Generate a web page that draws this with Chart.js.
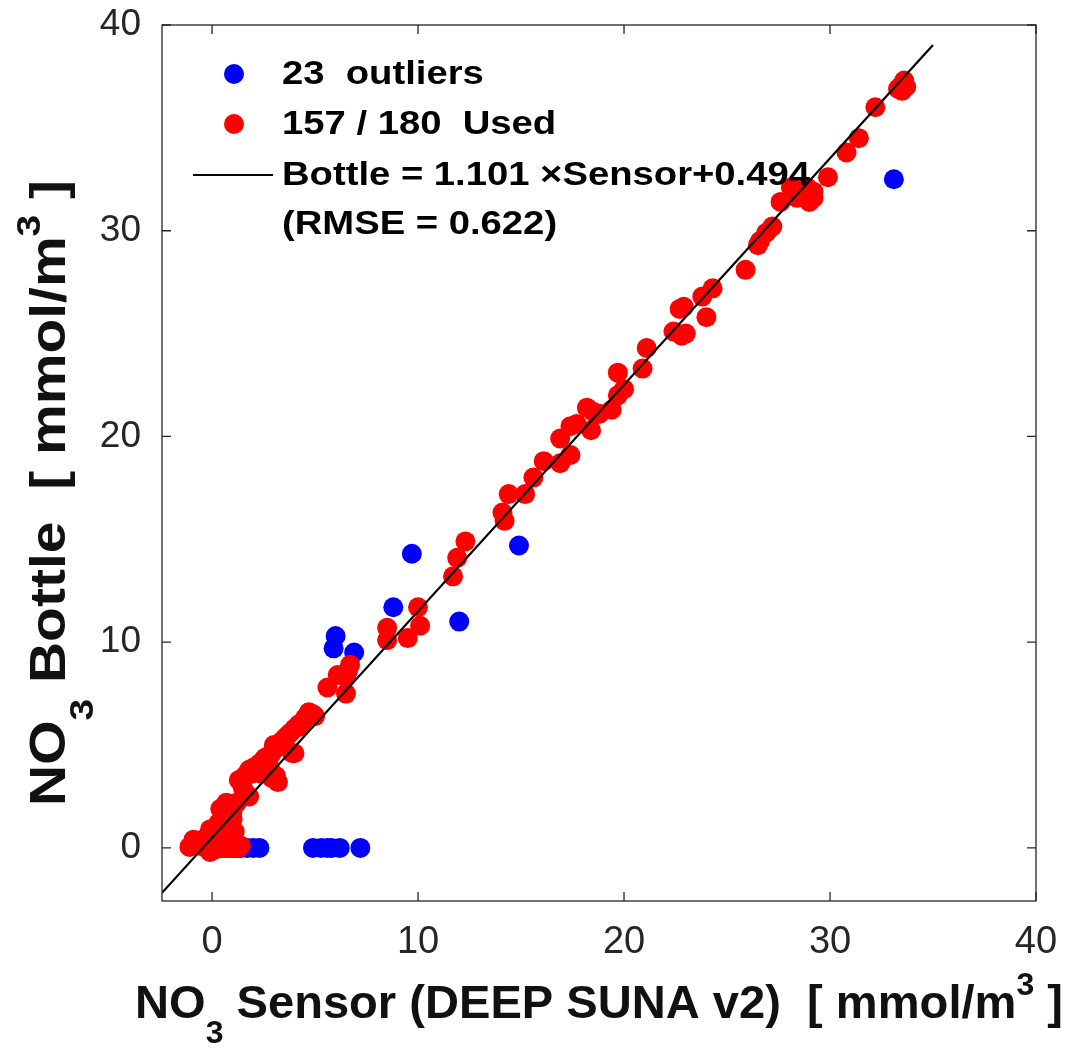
<!DOCTYPE html>
<html>
<head>
<meta charset="utf-8">
<script src="https://cdn.jsdelivr.net/npm/chart.js@4.4.1/dist/chart.umd.min.js"></script>
<style>
  html, body { margin: 0; padding: 0; background: #fff; }
  #chart { display: block; }
</style>
</head>
<body>
<canvas id="chart" width="1068" height="1054"></canvas>
<script>
// axis ticks
const xTickValues = [0, 10, 20, 30, 40];
const yTickValues = [0, 10, 20, 30, 40];

// outliers (sensor, bottle)
const outlierX = [33.1, 14.9, 9.7, 8.8, 12.0, 6.0, 5.9, 6.9,
  0.2, 0.5, 0.8, 1.0, 1.2, 1.4, 1.7, 2.0, 2.3, 4.9, 5.3, 5.6, 5.8, 6.2, 7.2];
const outlierY = [32.5, 14.7, 14.3, 11.7, 11.0, 10.3, 9.7, 9.5,
  0, 0, 0, 0, 0, 0, 0, 0, 0, 0, 0, 0, 0, 0, 0];

// used points (sensor, bottle)
const usedX = [33.4, 33.6, 33.7, 33.5, 33.3, 32.2, 31.4, 30.8, 29.9, 29.2, 29.0, 29.2,
  28.4, 28.1, 28.9, 28.3, 27.6, 27.2, 26.9, 26.6, 26.5,
  25.9, 24.3, 23.8, 24.0, 22.9, 22.7, 23.0, 22.8, 22.4,
  21.1, 20.9, 19.7, 20.0, 19.7, 19.4, 18.2, 18.5, 18.8,
  17.7, 18.4, 17.4, 16.9, 17.4, 16.9, 16.1, 15.6, 15.2, 14.4, 14.1, 14.2,
  12.3, 11.9, 11.7, 10.0, 10.1, 9.5, 8.5, 8.5,
  6.7, 6.6, 6.1, 6.5, 5.6, 6.5,
  4.7, 4.6, 4.4, 4.2, 4.0, 3.8, 3.7, 3.5, 3.4, 3.3,
  3.2, 3.0, 4.0, 3.9, 2.8, 2.6, 2.5, 2.3, 2.2, 2.0,
  1.8, 1.7, 1.6, 3.1, 3.2, 2.4, 2.8, 1.4, 1.5, 1.8,
  1.6, 0.7, 0.8, 0.4, 0.6, 1.0, 0.9, 1.1, -0.1, 0.2,
  0.7, 0.5, -0.9, -1.1, -0.8, -0.4, -0.2, 0.0, 0.3, 0.6,
  0.9, 1.1, 1.2, -0.1, 0.1, 0.4, 0.8, 0.2, -0.5, 1.0,
  4.9, 5.0, 4.5, 4.3, 3.6, 3.0, 2.9, 2.7, 2.1, 1.9,
  2.6, 2.9, 1.3, 1.2, 1.0, 0.5, 0.3, 0.0, -0.3, -0.6,
  0.05, 0.15, 0.45, 0.75, 1.0, 1.3, 1.4, 0.25, 0.55, 0.85, -0.05, 0.35];
const usedY = [37.0, 37.3, 37.0, 36.8, 36.9, 36.0, 34.5, 33.8, 32.6, 31.9, 31.4, 31.6,
  31.6, 32.1, 32.1, 32.0, 31.4, 30.2, 29.9, 29.5, 29.3,
  28.1, 27.2, 26.8, 25.8, 26.3, 26.2, 25.0, 24.9, 25.1,
  24.3, 23.3, 23.1, 22.3, 22.0, 21.3, 21.4, 21.2, 21.1,
  20.6, 20.3, 20.5, 19.9, 19.1, 18.7, 18.8, 18.0, 17.2, 17.2, 16.3, 15.9,
  14.9, 14.1, 13.2, 11.7, 10.8, 10.2, 10.7, 10.1,
  8.9, 8.6, 8.4, 8.3, 7.8, 7.5,
  6.6, 6.4, 6.1, 6.0, 5.8, 5.6, 5.5, 5.3, 5.2, 5.1,
  4.9, 4.8, 4.6, 4.6, 4.5, 4.4, 4.3, 4.1, 4.0, 3.9,
  3.8, 3.6, 3.5, 3.5, 3.2, 3.6, 3.9, 3.2, 2.9, 2.5,
  2.7, 2.2, 2.0, 1.9, 1.7, 1.4, 1.1, 0.8, 0.9, 0.7,
  0.5, 0.4, 0.4, 0.05, 0.1, 0.05, 0.2, 0.0, 0.0, 0.0,
  0.0, 0.0, 0.1, -0.2, -0.1, 0.1, 0.2, 0.3, 0.3, 0.3,
  6.5, 6.4, 6.3, 5.9, 5.4, 5.0, 4.6, 4.2, 3.8, 3.6,
  3.9, 3.4, 3.3, 2.2, 1.8, 1.5, 1.2, 0.6, 0.5, 0.2,
  0.1, 0.0, 0.0, 0.0, 0.0, 0.0, 0.1, 0.05, 0.1, 0.1, 0.0, 0.2];

// regression line end points
const fitX = [-2.43, 35.0];
const fitY = [-2.18, 39.03];

const legendLines = ['23  outliers', '157 / 180  Used', 'Bottle = 1.101 \u00D7Sensor+0.494', '(RMSE = 0.622)'];

function toPoints(xs, ys) {
  return xs.map((x, i) => ({ x: x, y: ys[i] }));
}

// text with sub / superscripts, stretched to a target width
function richText(ctx, parts, size, weight, targetW) {
  let w = 0;
  parts.forEach(p => {
    const s = p.k === 'n' ? size : size * 0.68;
    ctx.font = weight + ' ' + s + 'px "Liberation Sans", Arial, sans-serif';
    p.w = ctx.measureText(p.t).width;
    w += p.w;
  });
  const sx = targetW / w;
  ctx.save();
  ctx.scale(sx, 1);
  let x = 0;
  parts.forEach(p => {
    const s = p.k === 'n' ? size : size * 0.68;
    ctx.font = weight + ' ' + s + 'px "Liberation Sans", Arial, sans-serif';
    let dy = 0;
    if (p.k === 'sub') dy = size * 0.55;
    if (p.k === 'sup') dy = -size * 0.5;
    ctx.fillText(p.t, x, dy);
    x += p.w;
  });
  ctx.restore();
}

const decor = {
  id: 'decor',
  afterDraw(chart) {
    const ctx = chart.ctx;
    const a = chart.chartArea;
    const xs = chart.scales.x, ys = chart.scales.y;
    ctx.save();
    // box and inward ticks
    ctx.strokeStyle = '#262626';
    ctx.lineWidth = 1.3;
    ctx.strokeRect(a.left, a.top, a.right - a.left, a.bottom - a.top);
    ctx.beginPath();
    xTickValues.forEach(v => {
      const px = xs.getPixelForValue(v);
      ctx.moveTo(px, a.bottom); ctx.lineTo(px, a.bottom - 9);
      ctx.moveTo(px, a.top); ctx.lineTo(px, a.top + 9);
    });
    yTickValues.forEach(v => {
      const py = ys.getPixelForValue(v);
      ctx.moveTo(a.left, py); ctx.lineTo(a.left + 9, py);
      ctx.moveTo(a.right, py); ctx.lineTo(a.right - 9, py);
    });
    ctx.stroke();

    // axis titles
    ctx.fillStyle = '#111';
    ctx.textBaseline = 'alphabetic';
    ctx.textAlign = 'left';
    ctx.save();
    ctx.translate(135, 1018);
    richText(ctx, [{ t: 'NO', k: 'n' }, { t: '3', k: 'sub' },
      { t: ' Sensor (DEEP SUNA v2)  [ mmol/m', k: 'n' }, { t: '3', k: 'sup' }, { t: ' ]', k: 'n' }],
      46, 'bold', 928);
    ctx.restore();
    ctx.save();
    ctx.translate(65, 806);
    ctx.rotate(-Math.PI / 2);
    richText(ctx, [{ t: 'NO', k: 'n' }, { t: '3', k: 'sub' },
      { t: ' Bottle  [ mmol/m', k: 'n' }, { t: '3', k: 'sup' }, { t: ' ]', k: 'n' }],
      50, 'bold', 626);
    ctx.restore();

    // legend
    const rows = [74, 124, 175, 224];
    ctx.fillStyle = 'blue';
    ctx.beginPath(); ctx.arc(234, rows[0], 10, 0, Math.PI * 2); ctx.fill();
    ctx.fillStyle = 'red';
    ctx.beginPath(); ctx.arc(234, rows[1], 10, 0, Math.PI * 2); ctx.fill();
    ctx.strokeStyle = '#000';
    ctx.lineWidth = 2;
    ctx.beginPath(); ctx.moveTo(193, rows[2]); ctx.lineTo(273, rows[2]); ctx.stroke();
    ctx.fillStyle = '#000';
    ctx.font = 'bold 33px "Liberation Sans", Arial, sans-serif';
    ctx.textBaseline = 'middle';
    const sx = 528 / ctx.measureText(legendLines[2]).width;
    legendLines.forEach((txt, i) => {
      ctx.save();
      ctx.translate(282, rows[i] + 1);
      ctx.scale(sx, 1);
      ctx.fillText(txt, 0, 0);
      ctx.restore();
    });
    ctx.restore();
  }
};

new Chart(document.getElementById('chart'), {
  type: 'scatter',
  data: {
    datasets: [
      {
        type: 'line',
        label: 'fit',
        data: toPoints(fitX, fitY),
        borderColor: '#000',
        borderWidth: 2.2,
        pointRadius: 0,
        fill: false,
        order: 0
      },
      {
        label: 'used',
        data: toPoints(usedX, usedY),
        backgroundColor: '#ff0000',
        borderWidth: 0,
        pointRadius: 10,
        order: 1
      },
      {
        label: 'outliers',
        data: toPoints(outlierX, outlierY),
        backgroundColor: '#0000ff',
        borderWidth: 0,
        pointRadius: 10,
        order: 2
      }
    ]
  },
  options: {
    responsive: false,
    animation: false,
    layout: { padding: { left: 0, top: 25, right: 32, bottom: 0 } },
    plugins: { legend: { display: false }, tooltip: { enabled: false } },
    scales: {
      x: {
        type: 'linear',
        min: -2.43,
        max: 40,
        grid: { display: false, drawTicks: false },
        border: { display: false },
        afterBuildTicks: s => { s.ticks = xTickValues.map(v => ({ value: v })); },
        afterFit: s => { s.height = 153; s.paddingLeft = 0; s.paddingRight = 0; },
        ticks: {
          padding: 19,
          color: '#262626',
          font: { size: 38, family: '"Liberation Sans", Arial, sans-serif' },
          maxRotation: 0
        }
      },
      y: {
        type: 'linear',
        min: -2.58,
        max: 40,
        grid: { display: false, drawTicks: false },
        border: { display: false },
        afterBuildTicks: s => { s.ticks = yTickValues.map(v => ({ value: v })); },
        afterFit: s => { s.width = 162; s.paddingTop = 0; s.paddingBottom = 0; },
        ticks: {
          padding: 21,
          color: '#262626',
          font: { size: 37, family: '"Liberation Sans", Arial, sans-serif' }
        }
      }
    }
  },
  plugins: [decor]
});
</script>
</body>
</html>
